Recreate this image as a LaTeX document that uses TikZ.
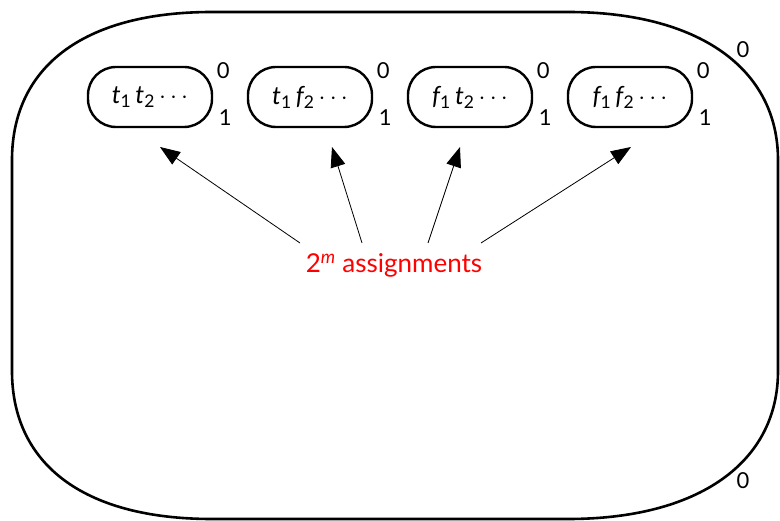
\documentclass[tikz,border=0pt]{standalone}
\usepackage{fontspec}
\setmainfont{Lato}
\usetikzlibrary{arrows.meta,calc}
\tikzset{
  smallbox/.style={draw, line width=2.4pt, rounded corners=28pt, minimum width=124pt, minimum height=60pt, inner sep=0pt, font=\fontsize{25}{30}\selectfont},
  lbl/.style={font=\fontsize{22}{26}\selectfont, inner sep=0pt},
  arr/.style={-{Triangle[length=20pt,width=15pt]}, line width=0.8pt},
  outline/.style={line width=2.6pt},
}
\newcommand{\vt}{{\itshape t}}
\newcommand{\vf}{{\itshape f}}
\newcommand{\sbs}[1]{\textsubscript{#1}}
\begin{document}
\begin{tikzpicture}[x=1pt,y=-1pt]
\useasboundingbox (0,0) rectangle (780,521);
\draw[outline] (212,12) -- (568,12)
  .. controls (698.2,12) and (778,68.2) .. (778,160)
  -- (778,371)
  .. controls (778,462.8) and (698.2,519) .. (568,519)
  -- (212,519)
  .. controls (81.8,519) and (12,462.8) .. (12,371)
  -- (12,160)
  .. controls (12,68.2) and (81.8,12) .. (212,12) -- cycle;
\node[smallbox] (b1) at (150,97) {\vt\sbs{1}\,\vt\sbs{2}\,$\cdots$};
\node[smallbox] (b2) at (310,97) {\vt\sbs{1}\,\vf\sbs{2}\,$\cdots$};
\node[smallbox] (b3) at (470,97) {\vf\sbs{1}\,\vt\sbs{2}\,$\cdots$};
\node[smallbox] (b4) at (630,97) {\vf\sbs{1}\,\vf\sbs{2}\,$\cdots$};
\foreach \b in {b1,b2,b3,b4}{
  \node[lbl] (\b z) at ($(\b.east)+(10,-26)$) {0};
  \node[lbl] (\b o) at ($(\b.east)+(12,21)$) {1};
}
\node[lbl] (oz) at (743,50) {0};
\node[lbl] (oo) at (743,481) {0};
\node[lbl, text=red, font=\fontsize{26}{30}\selectfont] (asg) at (394,265) {2\textsuperscript{\itshape m} assignments};
\coordinate (s1) at (300,243); \coordinate (t1) at (160,147);
\coordinate (s2) at (362,243); \coordinate (t2) at (332,147);
\coordinate (s3) at (428,243); \coordinate (t3) at (460,147);
\coordinate (s4) at (481,243); \coordinate (t4) at (631,147);
\draw[arr] (s1) -- (t1);
\draw[arr] (s2) -- (t2);
\draw[arr] (s3) -- (t3);
\draw[arr] (s4) -- (t4);
\end{tikzpicture}
\end{document}
